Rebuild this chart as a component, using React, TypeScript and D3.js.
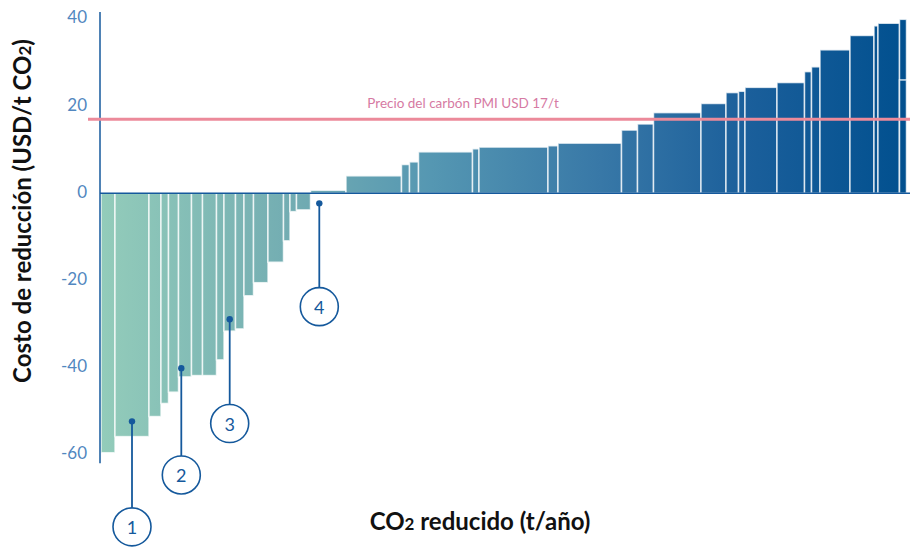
import React from "react";
import * as d3 from "d3";

// Abatement (CO2 reducido, arbitrary t/año units) per measure, in order
const reduction = [14, 34, 12, 7.5, 10, 13, 11, 14, 7.5, 11.5, 8.5, 9.5, 14.5, 15.5, 6.5, 6.5, 14,
  35.5, 55.5, 8, 9, 54, 6.5, 69, 10, 63.5, 16, 16, 47.5, 25, 12.5, 6.5, 32, 27.5, 7, 8.5, 30, 24, 4, 21.5, 7];
// Costo de reducción (USD/t CO2) per measure
const cost = [-59.5, -55.8, -51.2, -48.2, -45.6, -42.1, -41.8, -41.8, -38.2, -31.6, -31.1, -23.5, -20.5, -15.8, -10.9, -4.2, -3.8,
  0.7, 4.0, 6.6, 7.2, 9.5, 10.2, 10.6, 10.9, 11.5, 14.5, 15.9, 18.5, 20.6, 23.1, 23.4, 24.3, 25.4, 27.9, 29.0, 32.9, 36.2, 38.4, 39.0, 39.9];
// Overlapping outlined bar at the far right
const overlayStart = [798.5];
const overlayWidth = [7];
const overlayCost = [26];

const yTicks = [-60, -40, -20, 0, 20, 40];
const carbonPrice = 17;
const carbonLabel = "Precio del carbón PMI USD 17/t";

// Numbered callouts: dot position (x, y) and circle position (cy)
const calloutIds = ["1", "2", "3", "4"];
const calloutX = [31, 80.3, 128.7, 218.3];
const calloutDotY = [-52.3, -40.1, -28.9, -2.3];
const calloutCircleY = [-76.5, -64.6, -52.8, -26.0];

const W = 910;
const H = 547;
const FONT = "Lato, 'Open Sans', sans-serif";
const DARK = "#15599c";

export default function App() {
  const total = d3.sum(reduction);
  const x = d3.scaleLinear().domain([0, total]).range([101, 906.5]);
  const y = d3.scaleLinear().domain([-60, 40]).range([454.9, 18.9]);

  const starts = reduction.map((_, i) => d3.sum(reduction.slice(0, i)));

  return (
    <svg width={W} height={H} style={{ position: "absolute", left: 0, top: 0, fontFamily: FONT }}>
      <defs>
        <linearGradient id="barGrad" gradientUnits="userSpaceOnUse" x1={x(0)} x2={x(total)} y1={0} y2={0}>
          <stop offset="0" stopColor="#93ccba" />
          <stop offset="0.24" stopColor="#72acb2" />
          <stop offset="0.41" stopColor="#5597b2" />
          <stop offset="0.62" stopColor="#3878a7" />
          <stop offset="0.8" stopColor="#1b5f9b" />
          <stop offset="1" stopColor="#01508f" />
        </linearGradient>
      </defs>

      {/* bars */}
      <g>
        {reduction.map((w, i) => {
          const c = cost[i];
          const x0 = x(starts[i]);
          const x1 = x(starts[i] + w);
          const yt = y(Math.max(0, c));
          const yb = y(Math.min(0, c));
          return (
            <rect key={i} x={x0} y={yt} width={x1 - x0} height={yb - yt}
              fill="url(#barGrad)" stroke="#ffffff" strokeOpacity={0.75} strokeWidth={1.5} />
          );
        })}
        {overlayStart.map((s, i) => (
          <rect key={"o" + i} x={x(s)} y={y(overlayCost[i])} width={x(s + overlayWidth[i]) - x(s)}
            height={y(0) - y(overlayCost[i])} fill="url(#barGrad)" stroke="#ffffff" strokeOpacity={0.8} strokeWidth={1.5} />
        ))}
      </g>

      {/* axes */}
      <line x1={100} x2={100} y1={y(41.6)} y2={y(-61.9)} stroke={DARK} strokeWidth={1.5} />
      <line x1={100} x2={910} y1={y(0)} y2={y(0)} stroke={DARK} strokeWidth={1.5} />
      {yTicks.map((t) => (
        <text key={t} x={87} y={y(t) - 2} textAnchor="end" dominantBaseline="central"
          fontSize={17} fill="#5287c0">{t}</text>
      ))}

      {/* carbon price line */}
      <line x1={88} x2={910} y1={y(carbonPrice)} y2={y(carbonPrice)} stroke="#ec8a9a" strokeWidth={3} />
      <text x={463} y={y(carbonPrice) - 11} textAnchor="middle" fontSize={13.5} fill="#d67aa3">{carbonLabel}</text>

      {/* callouts */}
      {calloutIds.map((id, i) => {
        const cx = x(calloutX[i]);
        const dy = y(calloutDotY[i]);
        const cy = y(calloutCircleY[i]);
        const r = 19;
        return (
          <g key={id}>
            <line x1={cx} x2={cx} y1={dy} y2={cy - r} stroke={DARK} strokeWidth={1.8} />
            <circle cx={cx} cy={dy} r={3.2} fill={DARK} />
            <circle cx={cx} cy={cy} r={r} fill="#ffffff" stroke={DARK} strokeWidth={1.6} />
            <text x={cx} y={cy} textAnchor="middle" dominantBaseline="central" fontSize={18} fill={DARK}>{id}</text>
          </g>
        );
      })}

      {/* axis titles */}
      <text transform="translate(31,211) rotate(-90)" textAnchor="middle" fontSize={24} fontWeight="bold" fill="#111">
        Costo de reducción (USD/t CO<tspan fontSize={17}>2</tspan>)
      </text>
      <text x={480} y={530} textAnchor="middle" fontSize={24} fontWeight="bold" fill="#111">
        CO<tspan fontSize={17}>2</tspan> reducido (t/año)
      </text>
    </svg>
  );
}
